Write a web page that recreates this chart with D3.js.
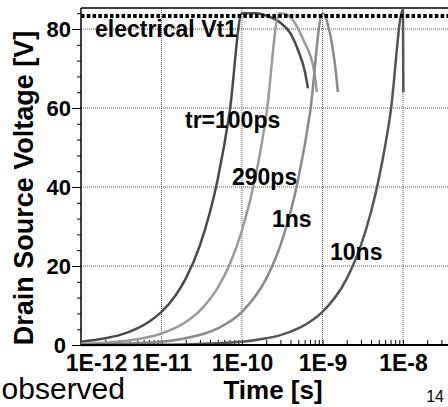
<!DOCTYPE html>
<html>
<head>
<meta charset="utf-8">
<script src="https://cdn.jsdelivr.net/npm/d3@7"></script>
<style>
  html, body { margin: 0; padding: 0; background: #fff; }
  svg { display: block; }
  text { font-family: "Liberation Sans", Arial, sans-serif; }
</style>
</head>
<body>
<svg id="chart" width="448" height="407"></svg>
<script>
// ---- data (time in ps, voltage in V) ----
const tA = [1, 2, 3, 5, 7, 10, 15, 20, 30, 50, 70, 100, 150, 200, 300, 400, 500, 600, 660];
const vA = [0.8, 1.7, 2.5, 4.2, 5.9, 8.4, 12.6, 16.8, 25.2, 42, 58.8, 84, 84, 83.4, 81.6, 78.9, 74.5, 69.5, 65];

const tB = [1, 2, 5, 10, 20, 30, 50, 70, 100, 150, 200, 290, 350, 400, 500, 600, 700, 800, 850];
const vB = [0.3, 0.6, 1.45, 2.9, 5.8, 8.7, 14.5, 20.3, 29, 43.4, 58, 84, 83.8, 83, 80, 76.5, 73.5, 68.5, 64];

const tC = [1, 10, 20, 50, 100, 200, 300, 500, 700, 1000, 1080, 1150, 1250, 1350, 1450, 1550];
const vC = [0.08, 0.84, 1.7, 4.2, 8.4, 16.8, 25.2, 42, 58.8, 84, 83.5, 81.5, 78.5, 74.5, 70, 64];

const tD = [1, 10, 100, 200, 300, 500, 700, 1000, 2000, 3000, 5000, 7000, 10000, 10100];
const vD = [0, 0.08, 0.84, 1.7, 2.5, 4.2, 5.9, 8.4, 16.8, 25.2, 42, 58.8, 85, 64];

const seriesNames = ["tr=100ps", "290ps", "1ns", "10ns"];
const seriesColors = ["#4a4a4a", "#9a9a9a", "#8a8a8a", "#555555"];

const vt1 = 83.3;
const xTickValues = [1e-12, 1e-11, 1e-10, 1e-9, 1e-8];
const xTickLabels = ["1E-12", "1E-11", "1E-10", "1E-9", "1E-8"];
const yTickValues = [0, 20, 40, 60, 80];

// ---- layout ----
const svg = d3.select("#chart");
const W = 448, H = 407;
const mLeft = 81, mBottom = 345, mTop = 8;

const x = d3.scaleLog().domain([1e-12, 1e-8]).range([mLeft, 403]);
const y = d3.scaleLinear().domain([0, 80]).range([mBottom, 29]);
const xMax = x.invert(W);

svg.append("rect").attr("width", W).attr("height", H).attr("fill", "#fff");

// grid
const grid = svg.append("g");
xTickValues.slice(1).forEach(v => {
  grid.append("line")
    .attr("x1", x(v)).attr("x2", x(v))
    .attr("y1", mTop).attr("y2", mBottom)
    .attr("stroke", "#555").attr("stroke-width", 1)
    .attr("stroke-dasharray", "1,1");
});
yTickValues.slice(1).forEach(v => {
  grid.append("line")
    .attr("x1", mLeft).attr("x2", W)
    .attr("y1", y(v)).attr("y2", y(v))
    .attr("stroke", "#555").attr("stroke-width", 1)
    .attr("stroke-dasharray", "1,1");
});

// y axis with minor ticks outside
const yMinor = d3.range(0, 85, 4);
const yAxisMinor = d3.axisLeft(y).tickValues(yMinor).tickSize(4).tickFormat("");
svg.append("g").attr("transform", `translate(${mLeft},0)`).call(yAxisMinor)
  .call(g => g.select(".domain").remove())
  .call(g => g.selectAll("line").attr("stroke", "#000").attr("stroke-width", 1));
const yAxis = d3.axisLeft(y).tickValues(yTickValues).tickSize(9).tickPadding(1);
svg.append("g").attr("transform", `translate(${mLeft},0)`).call(yAxis)
  .call(g => g.select(".domain").remove())
  .call(g => g.selectAll("line").attr("stroke", "#000").attr("stroke-width", 1))
  .call(g => g.selectAll("text")
    .attr("font-family", "'Liberation Sans', Arial, sans-serif")
    .attr("font-size", 22).attr("font-weight", "bold").attr("fill", "#000"))
  .call(g => g.selectAll(".tick").filter(d => d === 0).select("text").attr("dx", -5));

// x axis: minor ticks inside (upwards)
const xMinor = [];
for (let e = -12; e <= -8; e++) {
  for (let m = 1; m <= 9; m++) {
    const v = m * Math.pow(10, e);
    if (v <= xMax) xMinor.push(v);
  }
}
const xAxisMinor = d3.axisTop(x).tickValues(xMinor).tickSize(5).tickFormat("");
svg.append("g").attr("transform", `translate(0,${mBottom})`).call(xAxisMinor)
  .call(g => g.select(".domain").remove())
  .call(g => g.selectAll("line").attr("stroke", "#000").attr("stroke-width", 1));

const xAxis = d3.axisBottom(x).tickValues(xTickValues)
  .tickFormat((d, i) => xTickLabels[i]).tickSize(0).tickPadding(10);
svg.append("g").attr("transform", `translate(0,${mBottom})`).call(xAxis)
  .call(g => g.select(".domain").remove())
  .call(g => g.selectAll("text")
    .attr("font-family", "'Liberation Sans', Arial, sans-serif")
    .attr("font-size", 23).attr("font-weight", "bold").attr("fill", "#000"))
  .call(g => g.selectAll(".tick").filter(d => d === 1e-12).select("text").attr("dx", 15));

// frame lines
svg.append("line").attr("x1", mLeft).attr("x2", mLeft).attr("y1", mTop).attr("y2", mBottom + 1)
  .attr("stroke", "#000").attr("stroke-width", 1.5);
svg.append("line").attr("x1", mLeft).attr("x2", W).attr("y1", mTop).attr("y2", mTop)
  .attr("stroke", "#000").attr("stroke-width", 1.5);

// curves
const line = d3.line()
  .x(d => x(d[0] * 1e-12))
  .y(d => y(d[1]))
  .curve(d3.curveMonotoneX);
const series = [[tA, vA], [tB, vB], [tC, vC], [tD, vD]];
const plot = svg.append("g");
series.forEach(([ts, vs], i) => {
  plot.append("path")
    .datum(ts.map((t, k) => [t, vs[k]]))
    .attr("d", line)
    .attr("fill", "none")
    .attr("stroke", seriesColors[i])
    .attr("stroke-width", 2.5);
});

// x axis line (drawn over curves)
svg.append("line").attr("x1", mLeft).attr("x2", W).attr("y1", mBottom).attr("y2", mBottom)
  .attr("stroke", "#000").attr("stroke-width", 2);

// electrical Vt1 dotted line
svg.append("line").attr("x1", mLeft).attr("x2", W).attr("y1", y(vt1)).attr("y2", y(vt1))
  .attr("stroke", "#000").attr("stroke-width", 4)
  .attr("stroke-dasharray", "3.5,2.3");

// labels
const lab = (txt, lx, ly, size) => svg.append("text")
  .attr("x", lx).attr("y", ly).attr("font-size", size)
  .attr("font-weight", "bold").attr("fill", "#000").text(txt);
lab("electrical Vt1", 95, 37, 23);
lab(seriesNames[0], 185, 128, 23);
lab(seriesNames[1], 232, 185, 23);
lab(seriesNames[2], 272, 227, 23);
lab(seriesNames[3], 330, 260, 23);

// axis titles
svg.append("text")
  .attr("transform", "translate(33,188) rotate(-90)")
  .attr("text-anchor", "middle").attr("font-size", 27).attr("font-weight", "bold")
  .attr("fill", "#000").text("Drain Source Voltage [V]");
svg.append("text")
  .attr("x", 273).attr("y", 399).attr("text-anchor", "middle")
  .attr("font-size", 26).attr("font-weight", "bold").attr("fill", "#000")
  .text("Time [s]");
svg.append("text")
  .attr("x", 125).attr("y", 399).attr("text-anchor", "end")
  .attr("font-size", 30).attr("fill", "#000").text("observed");
svg.append("text")
  .attr("x", 444).attr("y", 402).attr("text-anchor", "end")
  .attr("font-family", "'Liberation Serif', 'Times New Roman', serif")
  .attr("font-size", 16).attr("fill", "#000").text("14");
</script>
</body>
</html>
